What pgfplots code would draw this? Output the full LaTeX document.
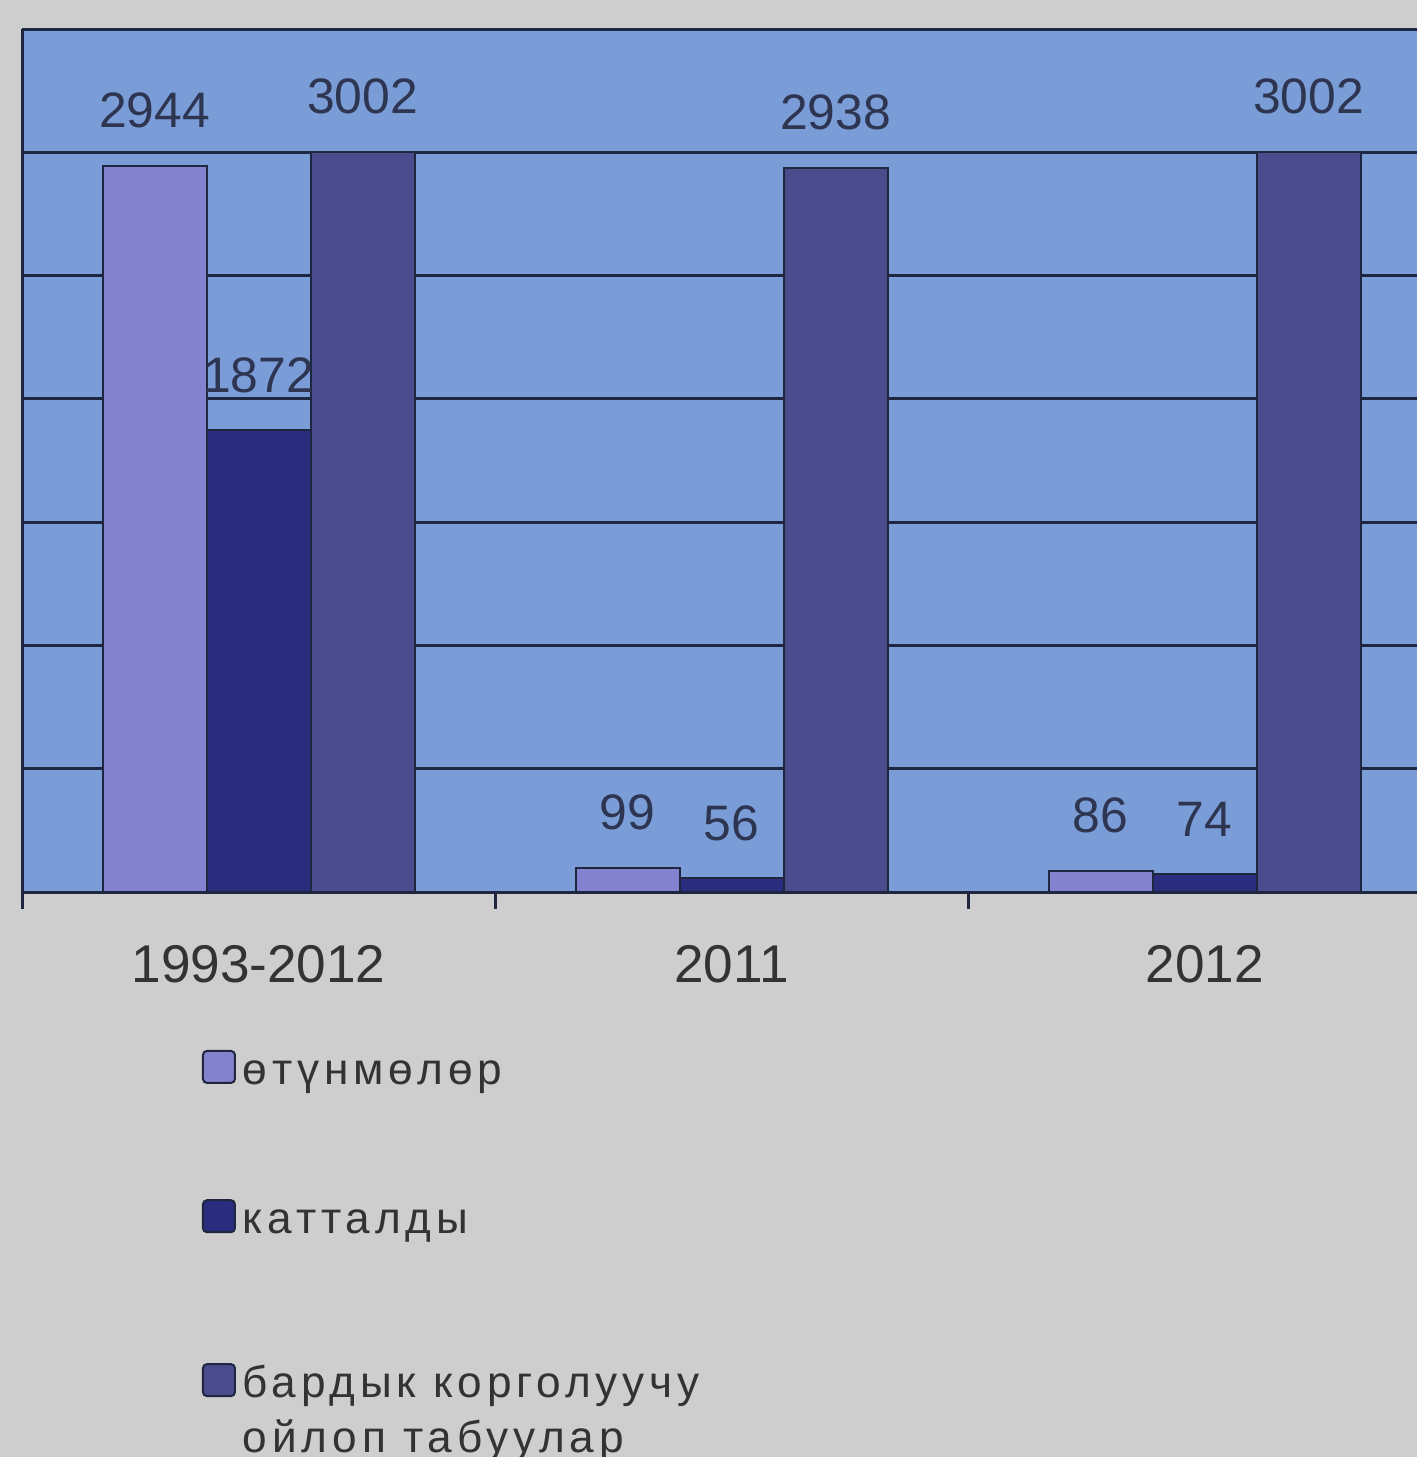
\documentclass[border=0pt]{standalone}
\usepackage{fontspec}
\setmainfont{Liberation Sans}
\newfontfamily\legfont[LetterSpace=11]{Liberation Sans}
\usepackage{pgfplots}
\pgfplotsset{compat=1.18}

\definecolor{pagebg}{HTML}{CECECE}
\definecolor{plotbg}{HTML}{7A9CD7}
\definecolor{gridc}{HTML}{1E2640}
\definecolor{serA}{HTML}{8482CF}
\definecolor{serB}{HTML}{2A2D7E}
\definecolor{serC}{HTML}{4A4C8E}
\definecolor{labc}{HTML}{333333}
\definecolor{valc}{HTML}{2E3550}

\pgfplotsset{
  sqlegend/.style={legend image code/.code={
      \draw[##1, rounded corners=1.2bp] (0bp,0.4bp) rectangle (9.6bp,10bp);}},
}

\begin{document}
\begin{tikzpicture}
\path[use as bounding box, fill=pagebg] (0,0) rectangle (425.1bp,437.1bp);
\begin{axis}[
  at={(6.6bp,169.5bp)}, anchor=south west,
  scale only axis, width=418.5bp, height=258.9bp,
  xmin=0, xmax=2.949, ymin=0, ymax=3500,
  axis background/.style={fill=plotbg},
  axis x line*=bottom, axis y line*=left,
  axis line style={draw=gridc, line width=0.9bp},
  ytick={0,500,...,3500}, yticklabels={}, ymajorgrids,
  grid style={draw=gridc, line width=0.9bp},
  xtick={0.5,1.5,2.5},
  xticklabels={1993-2012,2011,2012},
  minor xtick={0,1,2,3},
  major tick length=0pt, minor tick length=5bp, tick align=outside,
  minor tick style={draw=gridc, line width=0.9bp},
  xticklabel style={font=\fontsize{16}{19}\selectfont, text=labc, inner sep=0pt, yshift=-15.9bp},
  /pgf/number format/assume math mode=true,
  /pgf/number format/1000 sep={},
  ybar=0pt, bar width=31.2bp,
  nodes near coords,
  every node near coord/.append style={font=\fontsize{15}{18}\selectfont, text=valc, inner sep=0pt, yshift=11bp},
  legend style={at={(axis description cs:0.129,-0.183)}, anchor=north west,
    draw=none, fill=none, inner sep=0pt, outer sep=0pt,
    row sep=31bp, column sep=0pt,
    font=\legfont\fontsize{13.3}{16.5}\selectfont, text=labc,
    cells={anchor=base west, inner sep=0pt}},
]
\addplot[sqlegend, fill=serA, draw=gridc, line width=0.6bp]
  coordinates {(0.5,2944) (1.5,99) (2.5,86)};
\addplot[sqlegend, fill=serB, draw=gridc, line width=0.6bp]
  coordinates {(0.5,1872) (1.5,56) (2.5,74)};
\addplot[sqlegend, fill=serC, draw=gridc, line width=0.6bp]
  coordinates {(0.5,3002) (1.5,2938) (2.5,3002)};
\legend{өтүнмөлөр, катталды,
  {\rule{0pt}{12.7bp}\vtop{\baselineskip=16.5bp\hbox{бардык корголуучу}\hbox{ойлоп табуулар}}}}
\end{axis}
\end{tikzpicture}
\end{document}
